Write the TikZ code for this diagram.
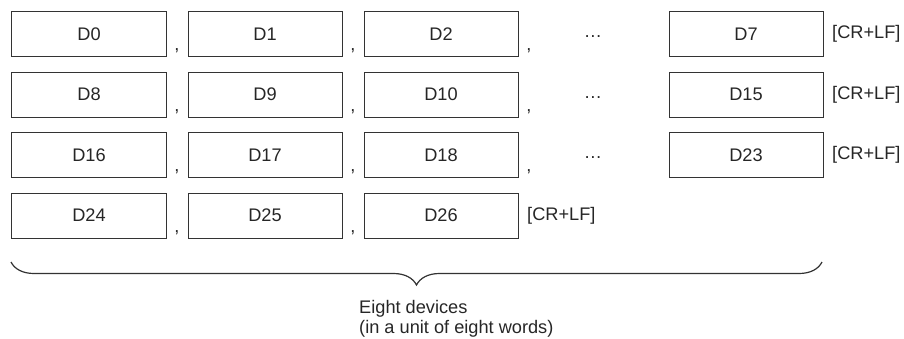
\documentclass[tikz,border=0pt]{standalone}
\usepackage{fontspec}
\setmainfont{Liberation Sans}
\usetikzlibrary{decorations.pathreplacing}
\tikzset{node distance=176bp, auto,
  dev/.style={draw=black!80, line width=1bp, minimum width=154bp, minimum height=45bp, inner sep=0pt},
  sep/.style={inner sep=0pt, node distance=88bp, right of=#1, yshift=-17bp},
  more/.style={inner sep=0pt, node distance=152bp, right of=#1, yshift=-3bp},
  eol/.style={inner sep=0pt, node distance=86bp, right of=#1, anchor=west},
  brace/.style={decorate, line width=1.2bp, draw=black!80, decoration={brace, mirror, amplitude=23bp}}}

\begin{document}
\begin{tikzpicture}[x=1bp, y=-1bp, font=\fontsize{18.2bp}{20bp}\selectfont, text=black!85]
\useasboundingbox (0,0) rectangle (904,338);
% first row
\node[dev] (d0) at (89,34) {D0};
\node[dev] (d1) [right of=d0] {D1};
\node[dev] (d2) [right of=d1] {D2};
\node[dev] (d7) [right of=d2, node distance=305bp] {D7};
\node[sep=d0] (c0) {,};
\node[sep=d1] (c1) {,};
\node[sep=d2] (c2) {,};
\node[more=d2] (e0) {…};
\node[eol=d7] (n0) {[CR+LF]};
% second row
\node[dev] (d8) at (89,94.5) {D8};
\node[dev] (d9) [right of=d8] {D9};
\node[dev] (d10) [right of=d9] {D10};
\node[dev] (d15) [right of=d10, node distance=305bp] {D15};
\node[sep=d8] (c3) {,};
\node[sep=d9] (c4) {,};
\node[sep=d10] (c5) {,};
\node[more=d10] (e1) {…};
\node[eol=d15] (n1) {[CR+LF]};
% third row
\node[dev] (d16) at (89,155) {D16};
\node[dev] (d17) [right of=d16] {D17};
\node[dev] (d18) [right of=d17] {D18};
\node[dev] (d23) [right of=d18, node distance=305bp] {D23};
\node[sep=d16] (c6) {,};
\node[sep=d17] (c7) {,};
\node[sep=d18] (c8) {,};
\node[more=d18] (e2) {…};
\node[eol=d23] (n2) {[CR+LF]};
% last row
\node[dev] (d24) at (89,215.5) {D24};
\node[dev] (d25) [right of=d24] {D25};
\node[dev] (d26) [right of=d25] {D26};
\node[sep=d24] (c9) {,};
\node[sep=d25] (c10) {,};
\node[eol=d26] (n3) {[CR+LF]};
% brace
\coordinate (bl) at (11,262);
\coordinate (br) at (822,262);
\draw[brace] (bl) -- (br);
\node[anchor=north west, align=left, inner sep=0pt] (lbl) at (359,300) {Eight devices\\(in a unit of eight words)};
\end{tikzpicture}
\end{document}
